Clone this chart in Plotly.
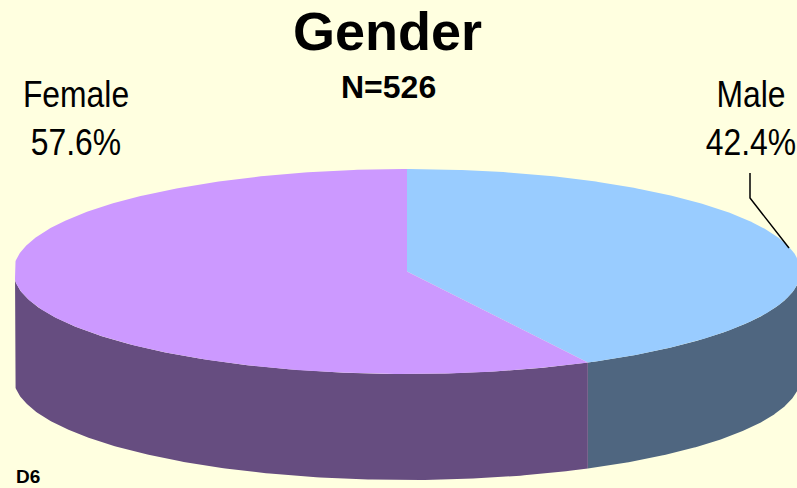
import numpy as np
import plotly.graph_objects as go

categories = ["Male", "Female"]
shares = [42.4, 57.6]
top_colors = ["#99CCFF", "#CC99FF"]
side_colors = ["#4F6680", "#664D80"]

title = "Gender"
subtitle = "N=526"
footnote = "D6"

BG = "#FFFFE0"
CX, CY, RX, RY, DEPTH, LEFT = 407, 271.5, 393.5, 102.5, 106, 15
LABEL_X = [751, 76]
NAME_Y, PCT_Y = 97.5, 145.5


def ellipse(deg, drop=0.0):
    a = np.radians(deg)
    return np.maximum(CX + RX * np.sin(a), LEFT), CY - RY * np.cos(a) + drop


fig = go.Figure()
edges = np.concatenate([[0], np.cumsum(shares)]) * 3.6

# side walls (only the front half of the disc, 90..270 degrees clockwise from top)
for i in range(len(shares)):
    lo, hi = max(edges[i], 90), min(edges[i + 1], 270)
    t = np.linspace(lo, hi, 200)
    x1, y1 = ellipse(t)
    x2, y2 = ellipse(t[::-1], DEPTH)
    fig.add_trace(go.Scatter(
        x=np.r_[x1, x2], y=np.r_[y1, y2], mode="lines", fill="toself",
        fillcolor=side_colors[i], line=dict(width=0), hoverinfo="skip", showlegend=False))

# top face
for i, name in enumerate(categories):
    t = np.linspace(edges[i], edges[i + 1], 400)
    x, y = ellipse(t)
    fig.add_trace(go.Scatter(
        x=np.r_[CX, x, CX], y=np.r_[CY, y, CY], mode="lines", fill="toself",
        fillcolor=top_colors[i], line=dict(width=0), name=name,
        hoverinfo="name", showlegend=False))

font = "Liberation Sans, Arial, sans-serif"

# slice labels, as text marks (condensed below)
fig.add_trace(go.Scatter(
    x=LABEL_X * 2, y=[NAME_Y] * 2 + [PCT_Y] * 2,
    text=categories + [f"{s}%" for s in shares],
    mode="text", textposition="middle center", hoverinfo="skip", showlegend=False,
    textfont=dict(family=font, size=36, color="#000000")))


def note(x, y, text, size):
    fig.add_annotation(x=x, y=y, xref="x", yref="y", text=f"<b>{text}</b>",
                       showarrow=False, xanchor="center", yanchor="middle",
                       font=dict(family=font, size=size, color="#000000"))


note(387, 31, title, 54)
note(388, 87, subtitle, 32)
note(28, 476, footnote, 19)

fig.add_shape(type="path", path="M 750 173 L 750 198 L 789 248",
              line=dict(color="#000000", width=1.5), xref="x", yref="y")

fig.update_layout(
    width=797, height=488, margin=dict(l=0, r=0, t=0, b=0),
    paper_bgcolor=BG, plot_bgcolor=BG, showlegend=False,
    xaxis=dict(range=[0, 797], visible=False, fixedrange=True),
    yaxis=dict(range=[488, 0], visible=False, fixedrange=True),
)

# Page margin off; the slice labels are set in a condensed width as in the reference.
post = """
document.body.style.margin='0';
document.body.style.overflow='hidden';
document.querySelectorAll('.textpoint text').forEach(function(el){
  el.setAttribute('textLength', el.getComputedTextLength() * 0.885);
  el.setAttribute('lengthAdjust', 'spacingAndGlyphs');
});
"""
fig.write_html("out.html", config=dict(displayModeBar=False), post_script=post)
